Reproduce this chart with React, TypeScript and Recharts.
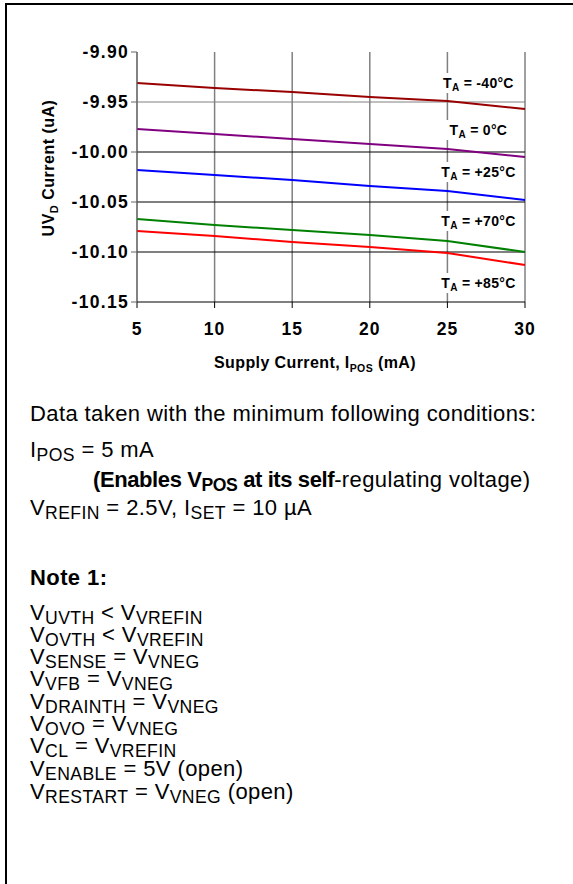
import React from 'react'
import { LineChart, Line, XAxis, YAxis, CartesianGrid, ReferenceLine, ReferenceDot } from 'recharts'

const supplyCurrent = [5, 10, 15, 20, 25, 30]

const tempM40 = [-9.931, -9.936, -9.94, -9.945, -9.949, -9.957]
const temp0 = [-9.977, -9.982, -9.987, -9.992, -9.997, -10.005]
const temp25 = [-10.018, -10.023, -10.028, -10.034, -10.039, -10.048]
const temp70 = [-10.067, -10.073, -10.078, -10.083, -10.089, -10.1]
const temp85 = [-10.079, -10.084, -10.09, -10.095, -10.101, -10.113]

const xTicks = [5, 10, 15, 20, 25, 30]
const yTicks = [-10.15, -10.1, -10.05, -10.0, -9.95, -9.9]

const series = [
  { key: 'm40', values: tempM40, color: '#990000', label: '= -40°C', labelY: -9.931 },
  { key: 't0', values: temp0, color: '#800080', label: '= 0°C', labelY: -9.978 },
  { key: 't25', values: temp25, color: '#0000ff', label: '= +25°C', labelY: -10.02 },
  { key: 't70', values: temp70, color: '#008000', label: '= +70°C', labelY: -10.069 },
  { key: 't85', values: temp85, color: '#ff0000', label: '= +85°C', labelY: -10.131 },
]
const labelX = 27

const hGrid = [
  { v: -9.95, color: '#808080' },
  { v: -10.0, color: '#000' },
  { v: -10.05, color: '#000' },
  { v: -10.1, color: '#000' },
]

const data = supplyCurrent.map((x, i) => {
  const row: any = { x }
  series.forEach(s => { row[s.key] = s.values[i] })
  return row
})

const FONT = '"Liberation Sans", Arial, sans-serif'

function TempLabel(props: any) {
  const { cx, cy, text } = props
  const w = 74
  return (
    <g>
      <rect x={cx - w / 2} y={cy - 10} width={w} height={20} fill="#fff" />
      <text x={cx} y={cy + 5} textAnchor="middle" fontFamily={FONT} fontWeight="bold" fontSize={14} letterSpacing={0.3} fill="#000">
        T<tspan fontSize={10} dy={3}>A</tspan><tspan dy={-3}> {text}</tspan>
      </text>
    </g>
  )
}

const sub: React.CSSProperties = { fontSize: '0.8em', verticalAlign: '-4px', lineHeight: 0 }

function S({ children }: any) {
  return <span style={sub}>{children}</span>
}

const textLine = (top: number, left: number, content: any, extra?: React.CSSProperties) => (
  <div style={{ position: 'absolute', top, left, whiteSpace: 'nowrap', lineHeight: '22px', ...extra }}>{content}</div>
)

export default function App() {
  return (
    <div style={{ position: 'fixed', left: 0, top: 0, width: 573, height: 884, background: '#fff', overflow: 'hidden', fontFamily: FONT, fontSize: 22, letterSpacing: 0.4, color: '#000' }}>
      <div style={{ position: 'absolute', left: 5, top: 3, width: 700, height: 1000, borderLeft: '2px solid #000', borderTop: '2px solid #000' }} />
      <div style={{ position: 'absolute', left: 0, top: 0 }}>
        <LineChart width={573} height={380} data={data} margin={{ top: 52, right: 48, bottom: 48, left: 57 }}>
          <CartesianGrid horizontal={false} stroke="#808080" strokeWidth={1.5} />
          {hGrid.map(g => (
            <ReferenceLine key={g.v} y={g.v} stroke={g.color} strokeWidth={1} />
          ))}
          <XAxis
            dataKey="x"
            type="number"
            domain={[5, 30]}
            ticks={xTicks}
            tickSize={6}
            stroke="#000"
            tick={{ fill: '#000', fontSize: 17.5, letterSpacing: 1, fontWeight: 'bold', fontFamily: FONT, dy: 13 }}
            label={{
              content: () => (
                <text x={315} y={368} textAnchor="middle" fontFamily={FONT} fontWeight="bold" fontSize={16} letterSpacing={0.4} fill="#000">
                  Supply Current, I<tspan fontSize={10.5} dy={4}>POS</tspan><tspan dy={-4}> (mA)</tspan>
                </text>
              ),
            }}
          />
          <YAxis
            type="number"
            domain={[-10.15, -9.9]}
            ticks={yTicks}
            width={80}
            tickSize={6}
            stroke="#666"
            tickFormatter={(v: number) => v.toFixed(2)}
            tick={{ fill: '#000', fontSize: 17.5, letterSpacing: 1.3, fontWeight: 'bold', fontFamily: FONT }}
            label={{
              content: () => (
                <text x={0} y={0} transform="translate(54,168) rotate(-90)" textAnchor="middle" fontFamily={FONT} fontWeight="bold" fontSize={16} letterSpacing={0.5} fill="#000">
                  UV<tspan fontSize={11} dy={4}>D</tspan><tspan dy={-4}> Current (uA)</tspan>
                </text>
              ),
            }}
          />
          {series.map(s => (
            <Line key={s.key} dataKey={s.key} type="linear" stroke={s.color} strokeWidth={2} dot={false} isAnimationActive={false} />
          ))}
          {series.map(s => (
            <ReferenceDot key={'l' + s.key} x={labelX} y={s.labelY} r={0} shape={(p: any) => <TempLabel {...p} text={s.label} />} />
          ))}
        </LineChart>
      </div>

      {textLine(403, 30, 'Data taken with the minimum following conditions:')}
      {textLine(439, 30, <>I<S>POS</S> = 5 mA</>)}
      {textLine(469, 93, <><span style={{ fontWeight: 'bold', letterSpacing: -0.4 }}>(Enables V<S>POS</S> at its self</span>-regulating voltage)</>)}
      {textLine(497, 30, <>V<S>REFIN</S> = 2.5V, I<S>SET</S> = 10 µA</>)}
      {textLine(567, 30, 'Note 1:', { fontWeight: 'bold' })}
      {textLine(602, 30, <>V<S>UVTH</S> &lt; V<S>VREFIN</S></>)}
      {textLine(624, 30, <>V<S>OVTH</S> &lt; V<S>VREFIN</S></>)}
      {textLine(646, 30, <>V<S>SENSE</S> = V<S>VNEG</S></>)}
      {textLine(668, 30, <>V<S>VFB</S> = V<S>VNEG</S></>)}
      {textLine(691, 30, <>V<S>DRAINTH</S> = V<S>VNEG</S></>)}
      {textLine(713, 30, <>V<S>OVO</S> = V<S>VNEG</S></>)}
      {textLine(735, 30, <>V<S>CL</S> = V<S>VREFIN</S></>)}
      {textLine(758, 30, <>V<S>ENABLE</S> = 5V (open)</>)}
      {textLine(781, 30, <>V<S>RESTART</S> = V<S>VNEG</S> (open)</>)}
    </div>
  )
}
